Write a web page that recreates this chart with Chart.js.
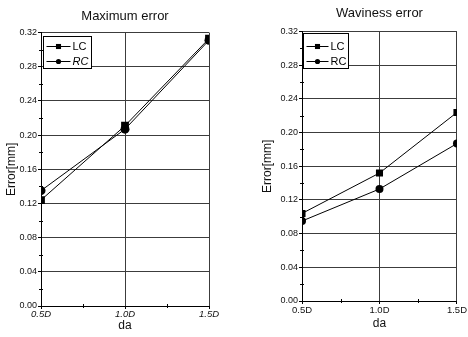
<!DOCTYPE html>
<html>
<head>
<meta charset="utf-8">
<script src="https://cdn.jsdelivr.net/npm/chart.js@4.4.0/dist/chart.umd.min.js"></script>
<style>
  body { margin: 0; background: #fff; }
  #wrap { position: relative; width: 468px; height: 337px; }
  canvas { position: absolute; top: 0; }
  #maxChart { left: 0; }
  #wavChart { left: 234px; }
</style>
</head>
<body>
<div id="wrap">
  <canvas id="maxChart" width="234" height="337"></canvas>
  <canvas id="wavChart" width="234" height="337"></canvas>
</div>
<script>
// da (x axis) and its tick labels
const daValues = [0.5, 1.0, 1.5];
const daLabels = ['0.5D', '1.0D', '1.5D'];

// Maximum error [mm]
const maxLC = [0.124, 0.211, 0.313];
const maxRC = [0.135, 0.207, 0.311];

// Waviness error [mm]
const wavLC = [0.104, 0.152, 0.224];
const wavRC = [0.095, 0.133, 0.187];

const FONT = '"Liberation Sans", Arial, sans-serif';
const GRID = '#3c3c3c';

// ── Boxed legend inside the plot area ───────────────
const boxLegend = {
  id: 'boxLegend',
  afterDraw(chart, args, o) {
    const { ctx, chartArea } = chart;
    const x0 = Math.round(chartArea.left + o.dx) + 0.5;
    const y0 = Math.round(chartArea.top + o.dy) + 0.5;
    ctx.save();
    ctx.fillStyle = '#fff';
    ctx.fillRect(x0, y0, o.width, o.height);
    ctx.strokeStyle = '#000';
    ctx.lineWidth = 1;
    ctx.strokeRect(x0, y0, o.width, o.height);
    chart.data.datasets.forEach((ds, i) => {
      const y = Math.round(y0 + o.rowTop + i * o.rowGap) + 0.5;
      const lx = x0 + 3;
      ctx.strokeStyle = '#000';
      ctx.beginPath();
      ctx.moveTo(lx, y);
      ctx.lineTo(lx + o.lineLen, y);
      ctx.stroke();
      ctx.fillStyle = '#000';
      Chart.helpers.drawPoint(ctx, {
        pointStyle: ds.pointStyle,
        radius: ds.pointStyle === 'rect' ? 3.6 : 2.6,
        rotation: 0,
        borderWidth: 0,
      }, lx + o.lineLen / 2, y);
      ctx.font = (o.italic[i] ? 'italic ' : '') + '11px ' + FONT;
      ctx.textBaseline = 'middle';
      ctx.fillText(ds.label, lx + o.lineLen + 2, y);
    });
    ctx.restore();
  },
};

// ── Minor ticks on the bottom and left axes ─────────
const minorTicks = {
  id: 'minorTicks',
  afterDraw(chart) {
    const { ctx, chartArea, scales } = chart;
    ctx.save();
    ctx.strokeStyle = '#000';
    ctx.lineWidth = 1;
    ctx.beginPath();
    const xt = scales.x.ticks;
    for (let i = 0; i < xt.length - 1; i++) {
      const px = Math.round(scales.x.getPixelForValue((xt[i].value + xt[i + 1].value) / 2)) + 0.5;
      ctx.moveTo(px, chartArea.bottom - 2);
      ctx.lineTo(px, chartArea.bottom + 2);
    }
    const yt = scales.y.ticks;
    for (let i = 0; i < yt.length - 1; i++) {
      const py = Math.round(scales.y.getPixelForValue((yt[i].value + yt[i + 1].value) / 2)) + 0.5;
      ctx.moveTo(chartArea.left - 2, py);
      ctx.lineTo(chartArea.left + 2, py);
    }
    ctx.stroke();
    ctx.restore();
  },
};

function toPoints(values) {
  return values.map((v, i) => ({ x: daValues[i], y: v }));
}

function makeChart(id, cfg) {
  const ctx = document.getElementById(id).getContext('2d');
  return new Chart(ctx, {
    type: 'line',
    data: {
      datasets: [{
        label: 'LC',
        data: toPoints(cfg.lc),
        borderColor: '#000',
        backgroundColor: '#000',
        borderWidth: 1,
        pointStyle: 'rect',
        pointRadius: cfg.rectR,
        pointBorderWidth: 0,
        tension: 0,
      }, {
        label: 'RC',
        data: toPoints(cfg.rc),
        borderColor: '#000',
        backgroundColor: '#000',
        borderWidth: 1,
        pointStyle: 'circle',
        pointRadius: cfg.circleR,
        pointBorderWidth: 0,
        tension: 0,
      }],
    },
    options: {
      responsive: false,
      animation: false,
      layout: { padding: cfg.padding },
      plugins: {
        legend: { display: false },
        tooltip: { enabled: false },
        title: {
          display: true,
          text: cfg.title,
          fullSize: false,
          color: '#111',
          font: { family: FONT, size: 13, weight: 'normal' },
          padding: cfg.titlePad,
        },
        boxLegend: cfg.legend,
      },
      scales: {
        x: {
          type: 'linear',
          min: 0.5,
          max: 1.5,
          afterFit: s => { s.height = cfg.xHeight; },
          grid: { color: GRID, lineWidth: 1, tickLength: 3, tickColor: '#000' },
          border: { color: '#000' },
          ticks: {
            stepSize: 0.5,
            padding: cfg.xTickPad,
            color: '#111',
            font: { family: FONT, size: 9.5, style: cfg.xItalic ? 'italic' : 'normal' },
            callback: v => {
              const i = daValues.findIndex(d => Math.abs(d - v) < 1e-6);
              return i >= 0 ? daLabels[i] : '';
            },
          },
          title: {
            display: true,
            text: 'da',
            color: '#111',
            font: { family: FONT, size: 12 },
            padding: { top: 0, bottom: 4 },
          },
        },
        y: {
          min: 0,
          max: 0.32,
          afterFit: s => { s.width = cfg.yWidth; },
          grid: { color: GRID, lineWidth: 1, tickLength: 3, tickColor: '#000' },
          border: { color: '#000' },
          ticks: {
            stepSize: 0.04,
            padding: 1,
            color: '#111',
            font: { family: FONT, size: 9 },
            callback: v => v.toFixed(2),
          },
          title: {
            display: true,
            text: 'Error[mm]',
            color: '#111',
            font: { family: FONT, size: 12 },
            padding: { top: 0, bottom: 0 },
          },
        },
      },
    },
    plugins: [minorTicks, boxLegend],
  });
}

makeChart('maxChart', {
  title: 'Maximum error',
  lc: maxLC,
  rc: maxRC,
  rectR: 5.5,
  circleR: 4.5,
  padding: { top: 0, left: 4, right: 25, bottom: 0 },
  titlePad: { top: 9, bottom: 8 },
  yWidth: 37,
  xHeight: 31,
  xTickPad: 0,
  xItalic: true,
  legend: { dx: 2, dy: 3, width: 48, height: 32, rowTop: 9, rowGap: 15, lineLen: 24, italic: [false, true] },
});

makeChart('wavChart', {
  title: 'Waviness error',
  lc: wavLC,
  rc: wavRC,
  rectR: 5,
  circleR: 4,
  padding: { top: 0, left: 26, right: 9, bottom: 2 },
  titlePad: { top: 6, bottom: 10 },
  yWidth: 42,
  xHeight: 34,
  xTickPad: 1,
  xItalic: false,
  legend: { dx: 1, dy: 1, width: 45, height: 35, rowTop: 12, rowGap: 15, lineLen: 22, italic: [false, false] },
});
</script>
</body>
</html>
